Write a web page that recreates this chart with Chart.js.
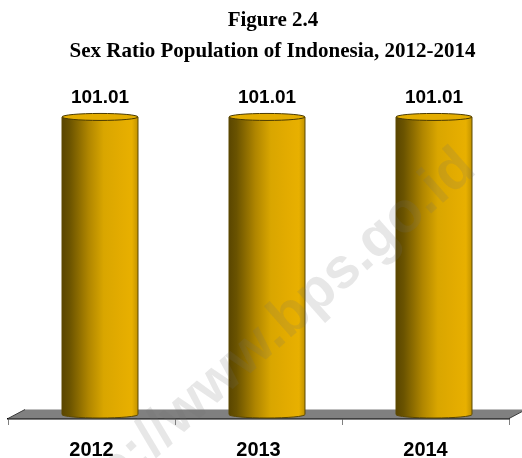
<!DOCTYPE html>
<html>
<head>
<meta charset="utf-8">
<script src="https://cdn.jsdelivr.net/npm/chart.js@4/dist/chart.umd.min.js"></script>
<style>
  html, body { margin: 0; padding: 0; background: #fff; }
  #wrap { width: 522px; height: 458px; }
</style>
</head>
<body>
<div id="wrap"><canvas id="grafico" width="522" height="458"></canvas></div>
<script>
// datos
const years = ['2012', '2013', '2014'];
const sexRatio = [101.01, 101.01, 101.01];
const valueLabels = ['101.01', '101.01', '101.01'];
const titleLines = ['Figure 2.4', 'Sex Ratio Population of Indonesia, 2012-2014'];
const watermark = 'http://www.bps.go.id';

const DEPTH_X = 17, DEPTH_Y = 9;

// titulo (centrado como en la figura original)
const titlePlugin = {
  id: 'titulo',
  afterDraw(chart) {
    const ctx = chart.ctx;
    ctx.save();
    ctx.fillStyle = '#000';
    ctx.font = 'bold 21px "Liberation Serif", "Times New Roman", serif';
    ctx.textAlign = 'center';
    ctx.textBaseline = 'alphabetic';
    ctx.fillText(titleLines[0], 273, 26);
    ctx.fillText(titleLines[1], 272.5, 57);
    ctx.restore();
  }
};

// suelo gris en perspectiva
const floorPlugin = {
  id: 'floor',
  beforeDatasetsDraw(chart) {
    const ctx = chart.ctx, a = chart.chartArea;
    const b = a.bottom - 0.5;
    ctx.save();
    ctx.beginPath();
    ctx.moveTo(a.left, b);
    ctx.lineTo(a.right, b);
    ctx.lineTo(a.right + DEPTH_X, b - DEPTH_Y);
    ctx.lineTo(a.left + DEPTH_X, b - DEPTH_Y);
    ctx.closePath();
    ctx.fillStyle = '#808080';
    ctx.fill();
    ctx.strokeStyle = '#3a3a3a';
    ctx.lineWidth = 1;
    ctx.beginPath();
    ctx.moveTo(a.left, b); ctx.lineTo(a.left + DEPTH_X, b - DEPTH_Y);
    ctx.moveTo(a.right, b); ctx.lineTo(a.right + DEPTH_X, b - DEPTH_Y);
    ctx.stroke();
    ctx.restore();
  }
};

// cilindros dibujados sobre las barras de Chart.js
const cylinderPlugin = {
  id: 'cylinder',
  afterDatasetsDraw(chart) {
    const ctx = chart.ctx;
    const meta = chart.getDatasetMeta(0);
    meta.data.forEach((bar, i) => {
      const cx = bar.x + DEPTH_X / 2;
      const w = bar.width;
      const l = cx - w / 2, r = cx + w / 2;
      const top = bar.y - DEPTH_Y / 2;
      const bottom = bar.base - DEPTH_Y / 2;
      const ry = 3.5;
      const g = ctx.createLinearGradient(l, 0, r, 0);
      g.addColorStop(0, '#5a4600');
      g.addColorStop(0.1, '#6a5300');
      g.addColorStop(0.35, '#b08600');
      g.addColorStop(0.55, '#d9a600');
      g.addColorStop(0.75, '#e2ab00');
      g.addColorStop(0.92, '#e8b000');
      g.addColorStop(1, '#c29300');
      ctx.save();
      ctx.beginPath();
      ctx.moveTo(l, top);
      ctx.lineTo(l, bottom);
      ctx.ellipse(cx, bottom, w / 2, ry, 0, Math.PI, 0, true);
      ctx.lineTo(r, top);
      ctx.closePath();
      ctx.fillStyle = g;
      ctx.fill();
      ctx.strokeStyle = '#5c4800';
      ctx.lineWidth = 1;
      ctx.stroke();
      // tapa
      ctx.beginPath();
      ctx.ellipse(cx, top, w / 2, ry, 0, 0, Math.PI * 2);
      ctx.fillStyle = '#e4ad00';
      ctx.fill();
      ctx.strokeStyle = '#4a3a00';
      ctx.stroke();
      // etiqueta
      ctx.fillStyle = '#000';
      ctx.font = 'bold 19px "Liberation Sans", Arial, sans-serif';
      ctx.textAlign = 'center';
      ctx.textBaseline = 'alphabetic';
      ctx.fillText(valueLabels[i], cx, top - 14);
      ctx.restore();
    });
  }
};

// marca de agua
const watermarkPlugin = {
  id: 'watermark',
  afterDraw(chart) {
    const ctx = chart.ctx;
    ctx.save();
    ctx.translate(478, 172);
    ctx.rotate(-41.5 * Math.PI / 180);
    ctx.font = 'bold 57px "Liberation Sans", Arial, sans-serif';
    ctx.textAlign = 'right';
    ctx.textBaseline = 'alphabetic';
    ctx.fillStyle = 'rgba(110,110,110,0.17)';
    ctx.fillText(watermark, 0, 0);
    ctx.restore();
  }
};

const ctx = document.getElementById('grafico').getContext('2d');
new Chart(ctx, {
  type: 'bar',
  data: {
    labels: years,
    datasets: [{
      label: 'Sex Ratio',
      data: sexRatio,
      backgroundColor: 'rgba(0,0,0,0)',
      borderWidth: 0,
      barPercentage: 0.455,
      categoryPercentage: 1
    }]
  },
  options: {
    responsive: false,
    animation: false,
    devicePixelRatio: 1,
    layout: { padding: { left: 8, right: 13, top: 65.5, bottom: 0 } },
    plugins: {
      legend: { display: false },
      tooltip: { enabled: false },
      title: { display: false }
    },
    scales: {
      x: {
        offset: true,
        grid: { display: true, drawOnChartArea: false, drawTicks: true, tickLength: 6, color: '#808080', offset: true },
        border: { display: true, color: '#000', width: 1.5 },
        ticks: {
          color: '#000',
          padding: 13,
          font: { family: '"Liberation Sans", Arial, sans-serif', size: 20, weight: 'bold' }
        },
        afterFit(scale) { scale.height = 39; }
      },
      y: {
        display: false,
        min: 0,
        max: 120
      }
    }
  },
  plugins: [floorPlugin, cylinderPlugin, watermarkPlugin, titlePlugin]
});
</script>
</body>
</html>
